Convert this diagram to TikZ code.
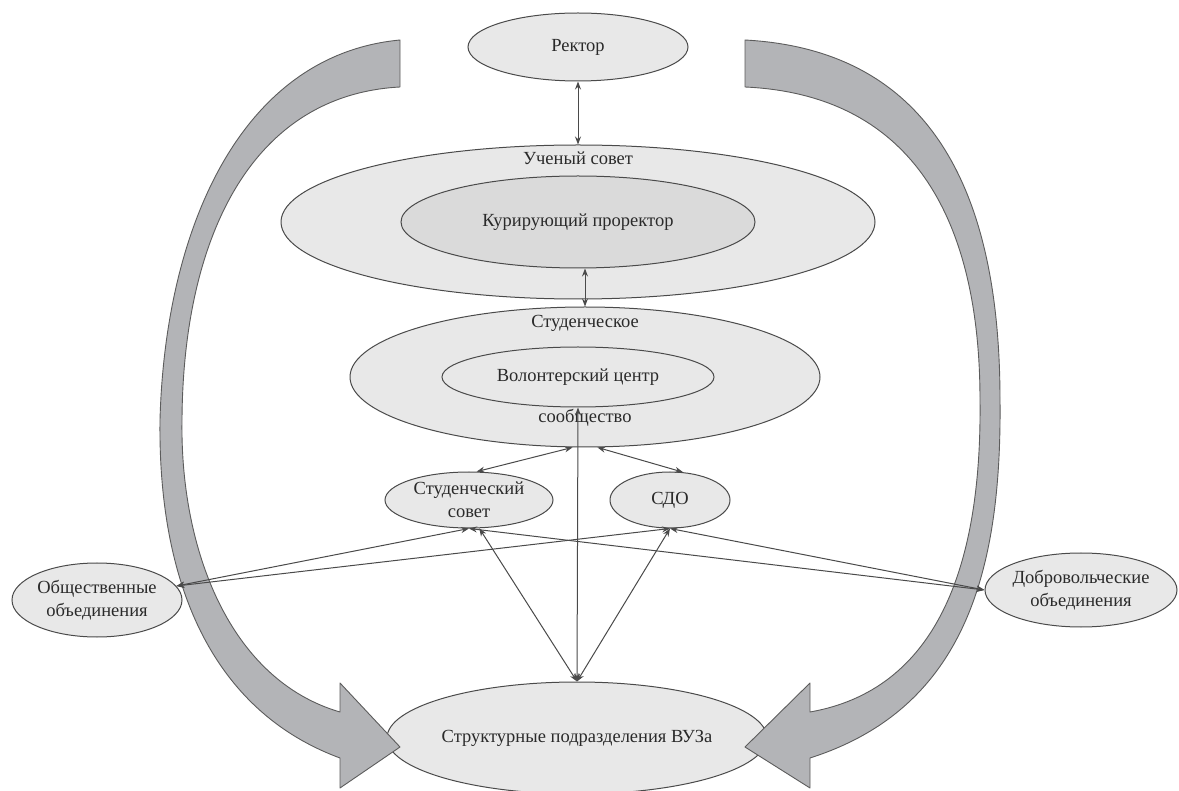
\documentclass[tikz,border=0pt]{standalone}
\usepackage{fontspec}
\setmainfont{Liberation Serif}
\usetikzlibrary{shapes.geometric,arrows.meta}
\definecolor{lineGray}{HTML}{4A4A4A}
\definecolor{ovalFill}{HTML}{E8E8E8}
\definecolor{innerFill}{HTML}{DADADA}
\definecolor{bandFill}{HTML}{B3B4B7}
\definecolor{textGray}{HTML}{2A2A2A}
\begin{document}
\begin{tikzpicture}
[x=1pt,y=-1pt,%
  ovalNode/.style={shape=ellipse,draw=lineGray,fill=ovalFill,line width=1pt,inner sep=0pt},%
  innerOval/.style={ovalNode,fill=innerFill},%
  bandArrow/.style={fill=bandFill,draw=lineGray!90,line width=0.9pt,line join=round},%
  linkArrow/.style={{Stealth[length=8pt,width=6pt]}-{Stealth[length=8pt,width=6pt]},draw=lineGray,line width=1pt},%
  font=\fontsize{18.5}{23}\selectfont, text=textGray]
\useasboundingbox (0,0) rectangle (1179,791);
%% bottom oval (under the big arrows)
\node (str) at (577,738) [ovalNode,minimum width=380,minimum height=112,
  label={center:Структурные подразделения ВУЗа}] {};
%% big curved arrows
\path[bandArrow] (400,40) .. controls (240,55) and (165,230) .. (160,420)
  .. controls (158,580) and (210,710) .. (340,758) -- (340,788) -- (400,747)
  -- (340,683) -- (340,712) .. controls (230,680) and (180,550) .. (182,420)
  .. controls (183,240) and (250,95) .. (400,87) -- cycle;
\path[bandArrow] (745,40) .. controls (930,50) and (1000,190) .. (1000,400)
  .. controls (1002,580) and (960,710) .. (810,758) -- (810,788) -- (745,747)
  -- (810,683) -- (810,712) .. controls (935,690) and (982,570) .. (980,400)
  .. controls (980,230) and (920,95) .. (745,87) -- cycle;
%% nested ovals
\node (uch) at (578,222) [ovalNode,minimum width=594,minimum height=154,
  label={[yshift=64pt]center:Ученый совет}] {};
\node (kur) at (578,222) [innerOval,minimum width=354,minimum height=92,
  label={center:Курирующий проректор}] {};
\node (stud) at (585,377) [ovalNode,minimum width=470,minimum height=140,
  label={[yshift=54pt]center:Студенческое},label={[yshift=-41pt]center:сообщество}] {};
\node (vol) at (578,377) [ovalNode,minimum width=272,minimum height=60,
  label={center:Волонтерский центр}] {};
%% single ovals
\foreach \nodename/\x/\y/\w/\h/\txt in {rek/578/47/220/68/Ректор,
  sovet/469/500/168/56/{Студенческий\\совет}, sdo/670/500/120/56/СДО,
  obsh/97/600/170/74/{Общественные\\объединения},
  dobr/1081/590/192/74/{Добровольческие\\объединения}}
{
  \node (\nodename) at (\x,\y) [ovalNode,minimum width=\w,minimum height=\h,
    label={[align=center]center:\txt}] {};
}
%% links
\path
\foreach \startnode/\endnode in {rek.south/uch.north, stud.260/sovet.75,
  stud.280/sdo.65, obsh.10/sovet.south, obsh.10/sdo.south,
  dobr.west/sovet.south, dobr.west/sdo.south, str.north/sovet.290,
  str.north/sdo.south, str.north/vol.south}
{
  (\startnode) edge[linkArrow] (\endnode)
}
(kur.south -| stud.north) edge[linkArrow] (stud.north);
\end{tikzpicture}
\end{document}
